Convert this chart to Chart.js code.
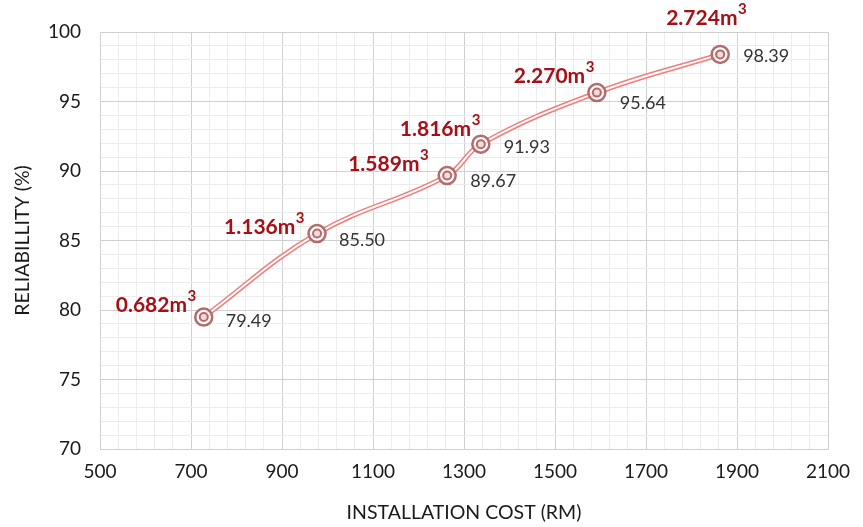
<!DOCTYPE html>
<html>
<head>
<meta charset="utf-8">
<script src="https://cdn.jsdelivr.net/npm/chart.js@4/dist/chart.umd.min.js"></script>
<style>
  html, body { margin: 0; padding: 0; background: #fff; }
  #wrap { width: 863px; height: 527px; }
</style>
</head>
<body>
<div id="wrap"><canvas id="js-chart"></canvas></div>
<script>
// Data
const installationCost = [728, 977, 1263, 1337, 1592, 1863];
const reliability = [79.49, 85.50, 89.67, 91.93, 95.64, 98.39];
const tankVolume = ["0.682", "1.136", "1.589", "1.816", "2.270", "2.724"];

// label offsets from each point, in pixels: [volume right dx, volume dy, value dx, value dy]
const labelOffsets = [
  [-8, -12, 22, 4],
  [-13, -6, 22, 7],
  [-19, -11, 23, 6],
  [-1, -15, 23, 3],
  [-3, -16, 23, 11],
  [26, -36, 23, 2],
];

const FONT = "Lato, 'Open Sans', sans-serif";
const points = installationCost.map((x, i) => ({ x, y: reliability[i] }));

const pointLabels = {
  id: "pointLabels",
  afterDatasetsDraw(chart) {
    const { ctx, scales } = chart;
    ctx.save();
    points.forEach((p, i) => {
      const px = scales.x.getPixelForValue(p.x);
      const py = scales.y.getPixelForValue(p.y);
      const [vdx, vdy, ndx, ndy] = labelOffsets[i];

      // volume label, right aligned, with superscript 3
      ctx.fillStyle = "#a50f15";
      ctx.textBaseline = "middle";
      ctx.textAlign = "left";
      ctx.font = "bold 15px " + FONT;
      const supW = ctx.measureText("3").width;
      ctx.font = "bold 21px " + FONT;
      const base = tankVolume[i] + "m";
      const baseW = ctx.measureText(base).width;
      const right = px + vdx;
      ctx.fillText(base, right - supW - baseW, py + vdy);
      ctx.font = "bold 15px " + FONT;
      ctx.fillText("3", right - supW + 0.5, py + vdy - 9);

      // reliability value label
      ctx.fillStyle = "#333333";
      ctx.font = "18px " + FONT;
      ctx.fillText(p.y.toFixed(2), px + ndx, py + ndy);
    });
    ctx.restore();
  },
};

const majorGrid = "#d0d0d0";
const minorGrid = "#ececec";

new Chart(document.getElementById("js-chart"), {
  type: "scatter",
  data: {
    datasets: [
      {
        data: points,
        order: 3,
        showLine: true,
        borderColor: "#f07c7c",
        borderWidth: 5,
        pointRadius: 0,
        tension: 0.4,
      },
      {
        data: points,
        order: 2,
        showLine: true,
        borderColor: "#ffffff",
        borderWidth: 2,
        pointRadius: 0,
        tension: 0.4,
      },
      {
        data: points,
        order: 1,
        showLine: false,
        pointRadius: 8.5,
        pointBorderWidth: 2.5,
        pointBorderColor: "#b36b6b",
        pointBackgroundColor: "rgba(255,255,255,0.7)",
      },
      {
        data: points,
        order: 0,
        showLine: false,
        pointRadius: 4,
        pointBorderWidth: 2,
        pointBorderColor: "#b36b6b",
        pointBackgroundColor: "#f3dada",
      },
    ],
  },
  options: {
    responsive: true,
    maintainAspectRatio: false,
    animation: false,
    layout: { padding: { left: 0, right: 35, top: 32, bottom: 0 } },
    plugins: { legend: { display: false }, tooltip: { enabled: false } },
    scales: {
      x: {
        type: "linear",
        min: 500,
        max: 2100,
        afterFit: (s) => { s.height = 78; },
        ticks: {
          stepSize: 40,
          autoSkip: false,
          maxRotation: 0,
          padding: 11,
          color: "#1a1a1a",
          font: { family: FONT, size: 19 },
          callback: (v) => (Math.round(v - 500) % 200 === 0 ? String(v) : ""),
        },
        grid: {
          drawTicks: false,
          color: (c) => (c.tick && Math.round(c.tick.value - 500) % 200 === 0 ? majorGrid : minorGrid),
        },
        border: { color: majorGrid },
        title: {
          display: true,
          text: "INSTALLATION COST (RM)",
          color: "#1a1a1a",
          font: { family: FONT, size: 19.5 },
          padding: { top: 0, bottom: 3 },
        },
      },
      y: {
        min: 70,
        max: 100,
        afterFit: (s) => { s.width = 100; },
        ticks: {
          stepSize: 1,
          autoSkip: false,
          padding: 19,
          color: "#1a1a1a",
          font: { family: FONT, size: 19 },
          callback: (v) => (Math.round(v) % 5 === 0 ? String(v) : ""),
        },
        grid: {
          drawTicks: false,
          color: (c) => (c.tick && Math.round(c.tick.value) % 5 === 0 ? majorGrid : minorGrid),
        },
        border: { color: majorGrid },
        title: {
          display: true,
          text: "RELIABILLITY (%)",
          color: "#1a1a1a",
          font: { family: FONT, size: 19.5 },
          padding: { top: 11, bottom: 4 },
        },
      },
    },
  },
  plugins: [pointLabels],
});
</script>
</body>
</html>
